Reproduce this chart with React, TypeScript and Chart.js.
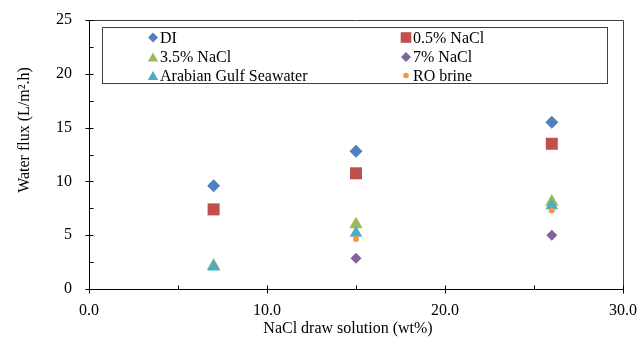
import React, { useEffect, useRef } from 'react';
import { Chart, registerables } from 'chart.js';

Chart.register(...registerables);

// ---- data ----
const concentrations = [7, 15, 26];
const diFlux = [9.6, 12.8, 15.5];
const nacl05Flux = [7.4, 10.75, 13.5];
const nacl35Flux = [2.15, 6.0, 8.1];
const nacl7Flux = [null, 2.85, 5.0];
const gulfFlux = [2.05, 5.2, 7.75];
const roBrineFlux = [null, 4.65, 7.3];

const seriesNames = ['DI', '0.5% NaCl', '3.5% NaCl', '7% NaCl', 'Arabian Gulf Seawater', 'RO brine'];
const seriesValues = [diFlux, nacl05Flux, nacl35Flux, nacl7Flux, gulfFlux, roBrineFlux];
const seriesColors = ['#4F81BD', '#C0504D', '#9BBB59', '#8064A2', '#4BACC6', '#F79646'];
const seriesShapes = ['rectRot', 'rect', 'triangle', 'rectRot', 'triangle', 'circle'];
const seriesRadius = [6.5, 8.5, 7.8, 5.5, 7.3, 3];
const legendRadius = [5, 7.5, 6, 5, 6, 2.8];

const yMajorTicks = [0, 5, 10, 15, 20, 25];
const yMinorTicks = [2.5, 7.5, 12.5, 17.5, 22.5];
const xMajorTicks = [0, 10, 20, 30];
const xMinorTicks = [5, 15, 25];

const xTitle = 'NaCl draw solution (wt%)';
const yTitle = 'Water flux (L/m\u00B2.h)';

const FONT = '"Liberation Serif", "Times New Roman", serif';

function drawShape(ctx: CanvasRenderingContext2D, shape: string, x: number, y: number, r: number) {
  ctx.beginPath();
  if (shape === 'rectRot') {
    ctx.moveTo(x, y - r);
    ctx.lineTo(x + r, y);
    ctx.lineTo(x, y + r);
    ctx.lineTo(x - r, y);
    ctx.closePath();
  } else if (shape === 'rect') {
    const s = r * Math.SQRT1_2;
    ctx.rect(x - s, y - s, 2 * s, 2 * s);
  } else if (shape === 'triangle') {
    for (let i = 0; i < 3; i++) {
      const a = -Math.PI / 2 + (i * 2 * Math.PI) / 3;
      const px = x + Math.cos(a) * r;
      const py = y + Math.sin(a) * r + r * 0.25;
      if (i === 0) ctx.moveTo(px, py);
      else ctx.lineTo(px, py);
    }
    ctx.closePath();
  } else {
    ctx.arc(x, y, r, 0, Math.PI * 2);
  }
  ctx.fill();
}

const framePlugin = {
  id: 'frame',
  beforeDatasetsDraw(chart: any) {
    const { ctx, chartArea: a, scales } = chart;
    const xs = scales.x;
    const ys = scales.y;
    ctx.save();
    ctx.lineWidth = 1;
    ctx.strokeStyle = '#404040';
    const L = Math.round(a.left) + 0.5;
    const R = Math.round(a.right) + 0.5;
    const T = Math.round(a.top) + 0.5;
    const B = Math.round(a.bottom) + 0.5;
    ctx.beginPath();
    ctx.moveTo(L, T);
    ctx.lineTo(R, T);
    ctx.lineTo(R, B);
    ctx.stroke();
    ctx.strokeStyle = '#000';
    ctx.beginPath();
    ctx.moveTo(L, T);
    ctx.lineTo(L, B);
    ctx.lineTo(R, B);
    ctx.stroke();
    ctx.beginPath();
    yMajorTicks.forEach((v) => {
      const py = Math.round(ys.getPixelForValue(v)) + 0.5;
      ctx.moveTo(L - 4, py);
      ctx.lineTo(L + 4, py);
    });
    yMinorTicks.forEach((v) => {
      const py = Math.round(ys.getPixelForValue(v)) + 0.5;
      ctx.moveTo(L, py);
      ctx.lineTo(L + 4, py);
    });
    xMajorTicks.forEach((v) => {
      const px = Math.round(xs.getPixelForValue(v)) + 0.5;
      ctx.moveTo(px, B - 4);
      ctx.lineTo(px, B + 4);
    });
    xMinorTicks.forEach((v) => {
      const px = Math.round(xs.getPixelForValue(v)) + 0.5;
      ctx.moveTo(px, B - 4);
      ctx.lineTo(px, B);
    });
    ctx.stroke();

    // axis titles
    ctx.fillStyle = '#000';
    ctx.font = '16px ' + FONT;
    ctx.textAlign = 'center';
    ctx.textBaseline = 'middle';
    ctx.fillText(xTitle, (a.left + a.right) / 2 - 8, a.bottom + 40);
    ctx.translate(25, a.top + 110);
    ctx.rotate(-Math.PI / 2);
    ctx.fillText(yTitle, 0, 0);
    ctx.restore();
  },
};

const legendPlugin = {
  id: 'boxLegend',
  afterDraw(chart: any) {
    const { ctx, chartArea: a } = chart;
    const left = Math.round(a.left + 13) + 0.5;
    const top = Math.round(a.top + 7) + 0.5;
    const right = Math.round(a.right - 16) + 0.5;
    const bottom = Math.round(a.top + 63) + 0.5;
    ctx.save();
    ctx.fillStyle = '#fff';
    ctx.fillRect(left, top, right - left, bottom - top);
    ctx.strokeStyle = '#404040';
    ctx.lineWidth = 1;
    ctx.strokeRect(left, top, right - left, bottom - top);
    ctx.font = '16px ' + FONT;
    ctx.textBaseline = 'middle';
    ctx.textAlign = 'left';
    const colX = [a.left + 64, a.left + 317];
    const rowY = [a.top + 17.5, a.top + 37, a.top + 55.5];
    seriesNames.forEach((name, i) => {
      const cx = colX[i % 2];
      const cy = rowY[Math.floor(i / 2)];
      ctx.fillStyle = seriesColors[i];
      drawShape(ctx, seriesShapes[i], cx, cy, legendRadius[i]);
      ctx.fillStyle = '#000';
      ctx.fillText(name, cx + 7, cy + 1);
    });
    ctx.restore();
  },
};

export default function App() {
  const canvasRef = useRef<HTMLCanvasElement | null>(null);

  useEffect(() => {
    if (!canvasRef.current) return;
    const datasets = seriesNames.map((name, i) => ({
      label: name,
      data: concentrations
        .map((c, j) => ({ x: c, y: seriesValues[i][j] }))
        .filter((p) => p.y !== null),
      backgroundColor: seriesColors[i],
      borderColor: seriesColors[i],
      borderWidth: 0,
      pointStyle: seriesShapes[i],
      pointRadius: seriesRadius[i],
      pointHoverRadius: seriesRadius[i],
      order: seriesNames.length - i,
    }));

    const chart = new Chart(canvasRef.current, {
      type: 'scatter',
      data: { datasets: datasets as any },
      options: {
        responsive: false,
        animation: false,
        layout: { padding: { top: 20, right: 14, left: 0, bottom: 0 } },
        plugins: {
          legend: { display: false },
          tooltip: { enabled: false },
        },
        scales: {
          x: {
            type: 'linear',
            min: 0,
            max: 30,
            ticks: {
              stepSize: 10,
              callback: (v: any) => Number(v).toFixed(1),
              font: { family: FONT, size: 16 },
              color: '#000',
              padding: 12,
              maxRotation: 0,
              autoSkip: false,
            },
            grid: { display: false, drawTicks: false },
            border: { display: false },
            title: { display: false },
            afterFit: (s: any) => {
              s.height = 57;
              s.paddingRight = 0;
              s.paddingLeft = 0;
            },
          },
          y: {
            type: 'linear',
            min: 0,
            max: 25,
            ticks: {
              stepSize: 5,
              font: { family: FONT, size: 16 },
              color: '#000',
              padding: 17,
            },
            grid: { display: false, drawTicks: false },
            border: { display: false },
            title: { display: false },
            afterFit: (s: any) => {
              s.width = 89;
              s.paddingTop = 0;
              s.paddingBottom = 0;
            },
          },
        },
      },
      plugins: [framePlugin, legendPlugin],
    });
    return () => chart.destroy();
  }, []);

  return (
    <div style={{ position: 'absolute', left: 0, top: 0, width: 637, height: 346, background: '#fff' }}>
      <canvas ref={canvasRef} width={637} height={346} />
    </div>
  );
}
